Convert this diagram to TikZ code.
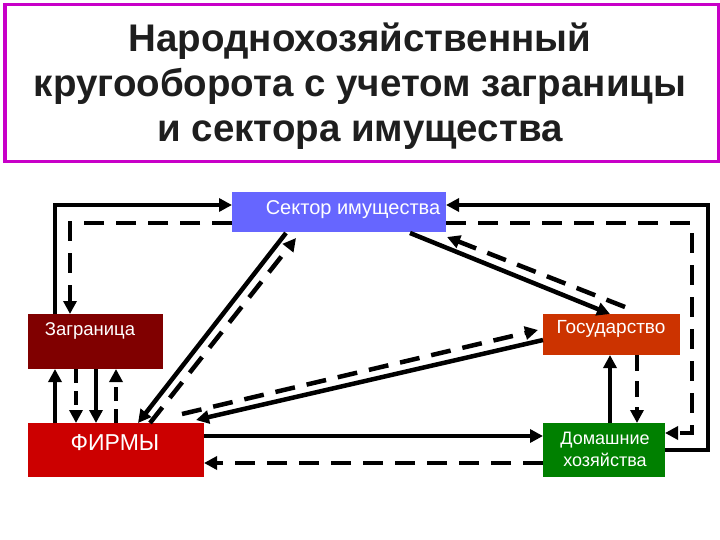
\documentclass[tikz,border=0pt]{standalone}
\usepackage{fontspec}
\setmainfont{Liberation Sans}
\usetikzlibrary{arrows.meta}
\begin{document}
\begin{tikzpicture}[x=1pt,y=-1pt,
  conn/.style={line width=4.5pt,-{Triangle[length=13pt,width=13pt]}},
  dconn/.style={conn,dash pattern=on 20pt off 12pt}]
\useasboundingbox (0,0) rectangle (720,540);
\fill[white] (0,0) rectangle (720,540);
\node[draw={rgb,255:red,200;green,0;blue,200},line width=3.5pt,minimum width=714pt,minimum height=157pt,inner sep=0pt,anchor=north west] (title) at (3,3) {};
\node[align=center,font=\bfseries\fontsize{38.5}{45}\selectfont,text={rgb,255:red,30;green,30;blue,30}] (tt) at (360,86) {Народнохозяйственный\\кругооборота с учетом заграницы\\и сектора имущества};
% boxes
\fill[fill={rgb,255:red,102;green,102;blue,255}] (232,192) rectangle (446,232);
\node[font=\fontsize{20}{24}\selectfont,text=white] (sekt) at (353,210) {Сектор имущества};
\fill[fill={rgb,255:red,128;green,0;blue,0}] (28,314) rectangle (163,369);
\node[font=\fontsize{18.5}{22}\selectfont,text=white] (zag) at (90,331) {Заграница};
\fill[fill={rgb,255:red,204;green,0;blue,0}] (28,423) rectangle (204,477);
\node[font=\fontsize{23}{27}\selectfont,text=white] (fir) at (115,443) {ФИРМЫ};
\fill[fill={rgb,255:red,204;green,51;blue,0}] (543,314) rectangle (680,355);
\node[font=\fontsize{19}{22}\selectfont,text=white] (gos) at (611,329) {Государство};
\fill[fill={rgb,255:red,0;green,128;blue,0}] (543,423) rectangle (665,477);
\node[font=\fontsize{18}{22}\selectfont,text=white,align=center] (dom) at (605,449) {Домашние\\хозяйства};
% named anchor coordinates
\coordinate (zt1) at (55,314); \coordinate (zt2) at (70,314);
\coordinate (sl1) at (232,205); \coordinate (sl2) at (232,223);
\coordinate (sr1) at (446,205); \coordinate (sr2) at (446,223);
\coordinate (dr1) at (665,450); \coordinate (dr2) at (665,433);
% outer loops
\draw[conn] (zt1) |- (sl1);
\draw[dconn] (sl2) -| (zt2);
\draw[conn] (dr1) -- (708,450) |- (sr1);
\draw[dconn] (sr2) -| (692,433) -- (dr2);
% Zagranica <-> Firmy
\draw[conn] (55,423) -- (55,369);
\draw[dconn,dash pattern=on 14pt off 8pt] (76,369) -- (76,423);
\draw[conn] (96,369) -- (96,423);
\draw[dconn,dash pattern=on 14pt off 8pt] (116,423) -- (116,369);
% diagonals
\draw[conn] (286,233) -- (138,423);
\draw[dconn] (150,423) -- (296,238);
\draw[conn] (410,233) -- (610,314);
\draw[dconn] (625,307) -- (447,237);
\draw[conn] (543,340) -- (196,420);
\draw[dconn] (182,414) -- (538,330);
% Firmy <-> Dom
\draw[conn] (204,436) -- (543,436);
\draw[dconn] (543,463) -- (204,463);
% Gos <-> Dom
\draw[conn] (610,423) -- (610,355);
\draw[dconn,dash pattern=on 16pt off 10pt] (637,355) -- (637,423);
\end{tikzpicture}
\end{document}
